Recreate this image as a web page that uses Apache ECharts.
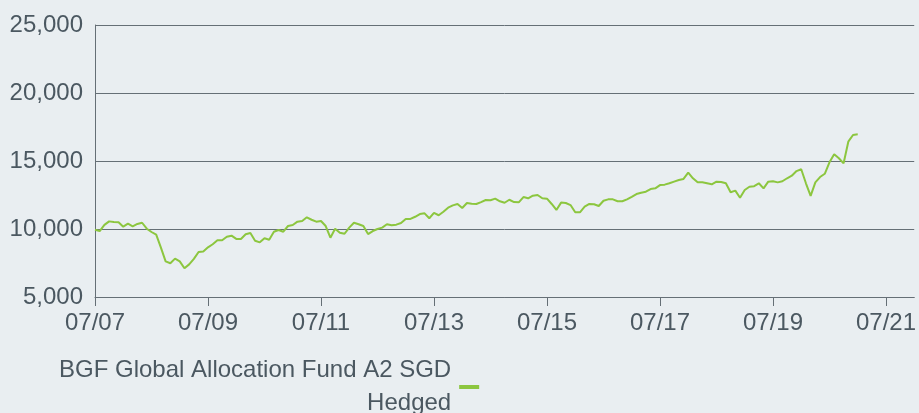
<!DOCTYPE html>
<html>
<head>
<meta charset="utf-8">
<script src="https://cdn.jsdelivr.net/npm/echarts@6/dist/echarts.min.js"></script>
<style>
  html, body { margin: 0; padding: 0; background: #e9eef1; }
  #chart { width: 919px; height: 413px; }
</style>
</head>
<body>
<div id="chart"></div>
<script>
// monthly axis from 07/2007 to 01/2022, labels shown every 2 years
const startYear = 2007, startMonth = 7, monthCount = 175;
const months = [];
for (let i = 0; i < monthCount; i++) {
    const m = (startMonth - 1 + i) % 12 + 1;
    const y = startYear + Math.floor((startMonth - 1 + i) / 12);
    months.push(String(m).padStart(2, '0') + '/' + String(y % 100).padStart(2, '0'));
}

const seriesName = 'BGF Global Allocation Fund A2 SGD Hedged';
// growth of 10,000 (07/07 .. 01/21)
const fundValues = [
    9950, 9850, 10300, 10560, 10510, 10490, 10170, 10390, 10200, 10370,
    10460, 10020, 9780, 9580, 8630, 7620, 7480, 7820, 7620, 7110,
    7400, 7800, 8310, 8350, 8650, 8880, 9170, 9170, 9430, 9510,
    9270, 9270, 9610, 9710, 9140, 9020, 9320, 9210, 9800, 9930,
    9800, 10220, 10290, 10540, 10590, 10860, 10680, 10540, 10590, 10220,
    9360, 10020, 9730, 9650, 10100, 10460, 10350, 10220, 9630, 9850,
    10000, 10100, 10350, 10270, 10320, 10440, 10740, 10740, 10900, 11100,
    11150, 10790, 11180, 11010, 11270, 11570, 11740, 11840, 11540, 11910,
    11860, 11840, 11980, 12130, 12110, 12230, 12040, 11930, 12150, 11980,
    11960, 12350, 12260, 12450, 12500, 12260, 12230, 11840, 11400, 11940,
    11910, 11760, 11230, 11230, 11640, 11840, 11820, 11690, 12080, 12180,
    12180, 12040, 12040, 12180, 12370, 12570, 12670, 12740, 12940, 12990,
    13230, 13260, 13360, 13480, 13600, 13680, 14140, 13730, 13430, 13430,
    13360, 13290, 13480, 13450, 13360, 12700, 12820, 12300, 12870, 13110,
    13150, 13360, 12990, 13480, 13510, 13430, 13510, 13730, 13920, 14260,
    14390, 13360, 12430, 13430, 13820, 14060, 14900, 15490, 15200, 14830,
    16420, 16910, 16960
];

const yMin = 5000, yMax = 25000, yStep = 5000;

const textColor = '#4b5861';
const lineColor = '#656f76';
const fundColor = '#8cc63f';
const fontName = 'Liberation Sans, Arial, sans-serif';

const everyTwoYears = (idx) => idx % 24 === 0;

const option = {
    backgroundColor: '#e9eef1',
    animation: false,
    grid: {
        left: 95,
        right: 2,
        top: 25,
        bottom: 116,
        containLabel: false
    },
    legend: {
        left: 54,
        top: 349,
        align: 'right',
        icon: 'rect',
        itemWidth: 20,
        itemHeight: 4,
        formatter: () => 'BGF Global Allocation Fund A2 SGD\nHedged',
        textStyle: {
            color: textColor,
            fontFamily: fontName,
            fontSize: 24,
            lineHeight: 33,
            align: 'right',
            padding: [0, 3, 0, 0]
        },
        data: [seriesName]
    },
    xAxis: {
        type: 'category',
        data: months,
        boundaryGap: false,
        axisLine: { show: true, lineStyle: { color: lineColor, width: 1 } },
        axisTick: { show: true, interval: everyTwoYears, length: 9, lineStyle: { color: lineColor } },
        axisLabel: {
            interval: everyTwoYears,
            color: textColor,
            fontFamily: fontName,
            fontSize: 24,
            margin: 14
        },
        splitLine: { show: false }
    },
    yAxis: {
        type: 'value',
        min: yMin,
        max: yMax,
        interval: yStep,
        axisLine: { show: true, lineStyle: { color: lineColor, width: 1 } },
        axisTick: { show: false },
        axisLabel: {
            color: textColor,
            fontFamily: fontName,
            fontSize: 24,
            margin: 12,
            formatter: (v) => v.toLocaleString('en-US')
        },
        splitLine: { show: true, lineStyle: { color: lineColor, width: 1 } }
    },
    series: [
        {
            name: seriesName,
            type: 'line',
            data: fundValues,
            showSymbol: false,
            symbol: 'none',
            lineStyle: { color: fundColor, width: 2 },
            itemStyle: { color: fundColor }
        }
    ]
};

const chart = echarts.init(document.getElementById('chart'));
chart.setOption(option);
</script>
</body>
</html>
